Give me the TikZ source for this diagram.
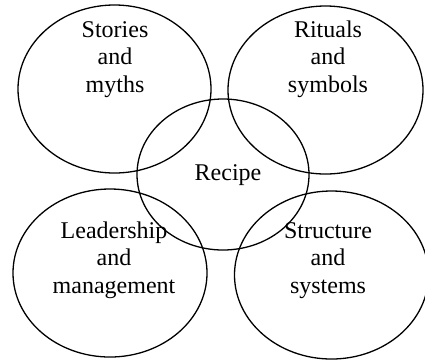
\documentclass[tikz,border=0pt]{standalone}
\usepackage{fontspec}
\setmainfont{Liberation Serif}
\usetikzlibrary{shapes.geometric}
\begin{document}
\begin{tikzpicture}[x=1pt,y=-1pt,
  ring/.style={draw=black,line width=1.3pt,ellipse,inner sep=0pt},
  lbl/.style={align=center,inner sep=0pt,anchor=base,font=\fontsize{24}{27.5}\selectfont}]
\useasboundingbox (0,0) rectangle (425,360);
\node[ring,minimum width=193pt,minimum height=168pt] (sm) at (114.5,89) {};
\node[ring,minimum width=195pt,minimum height=168pt] (rs) at (325.5,90) {};
\node[ring,minimum width=194pt,minimum height=168pt] (lm) at (110,273) {};
\node[ring,minimum width=194pt,minimum height=168pt] (ss) at (331.5,275) {};
\node[ring,minimum width=172pt,minimum height=151pt] (rc) at (223,174.5) {};
\node[lbl] (tsm) at (115,92) {Stories\\and\\myths};
\node[lbl] (trs) at (328,92) {Rituals\\and\\symbols};
\node[lbl] (trc) at (228,180) {Recipe};
\node[lbl] (tlm) at (114,293) {Leadership\\and\\management};
\node[lbl] (tss) at (328,293) {Structure\\and\\systems};
\end{tikzpicture}
\end{document}
